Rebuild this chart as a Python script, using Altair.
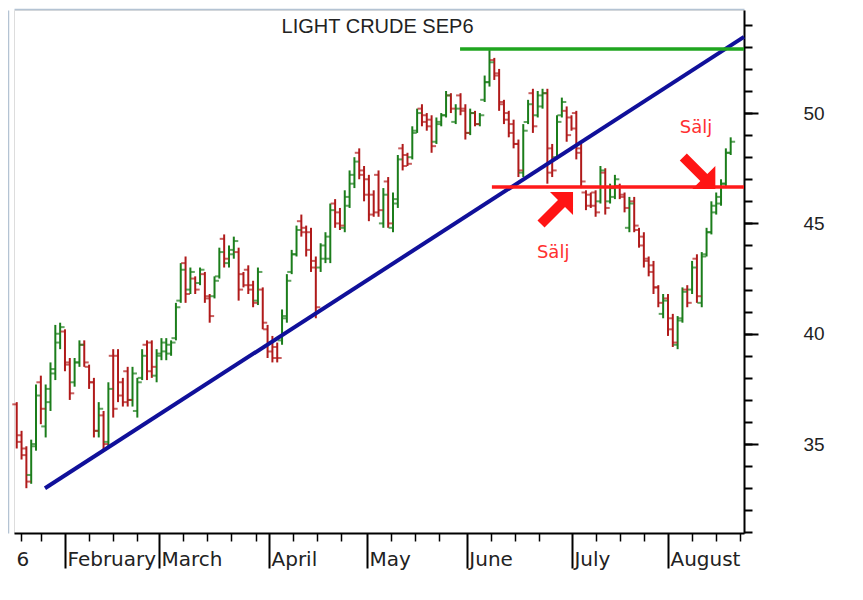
import altair as alt
import pandas as pd

# ---------------- data ----------------
# trading-day index of each bar (Jan 18 2006 = 1 ... Aug 18 2006 = 149)
day = list(range(1, 150))
open_p = [36.8, 35.4, 34.5, 33.6, 35.0, 37.8, 35.8, 36.9, 38.2, 39.6,
          40.1, 38.7, 37.8, 38.7, 39.5, 38.5, 37.8, 35.6, 36.3, 35.1,
          39.0, 39.0, 37.8, 38.3, 37.0, 36.5, 38.0, 39.5, 39.6, 38.1,
          39.0, 39.2, 39.1, 39.8, 41.5, 43.2, 42.0, 42.5, 42.3, 42.7,
          41.6, 41.7, 42.6, 44.3, 43.2, 43.6, 43.7, 42.7, 42.9, 42.2,
          41.5, 42.0, 40.2, 39.6, 39.4, 39.7, 40.7, 42.8, 43.6, 45.1,
          44.8, 44.6, 43.3, 43.0, 43.4, 43.4, 45.9, 45.5, 44.8, 45.8,
          46.8, 48.2, 47.4, 47.0, 46.3, 47.2, 45.0, 46.9, 44.8, 45.9,
          48.4, 48.1, 48.0, 49.2, 50.2, 49.9, 49.7, 48.7, 49.5, 49.9,
          50.8, 49.6, 50.8, 50.2, 49.1, 50.0, 49.5, 50.6, 51.4, 52.4,
          51.8, 50.5, 50.0, 49.5, 48.6, 47.3, 49.6, 50.9, 49.9, 50.3,
          50.9, 48.4, 48.0, 49.9, 50.1, 49.8, 50.0, 48.4, 46.4, 46.3,
          46.4, 46.0, 47.3, 46.0, 46.2, 46.7, 46.3, 44.8, 46.0, 44.7,
          44.4, 43.4, 43.1, 42.1, 40.9, 41.6, 40.7, 39.5, 40.7, 42.0,
          42.0, 43.4, 41.4, 43.6, 44.6, 45.5, 45.9, 46.8, 48.2]
high_p = [36.9, 35.6, 34.9, 35.2, 37.7, 38.1, 37.7, 38.7, 40.4, 40.5,
          40.2, 38.9, 38.9, 39.7, 39.7, 38.6, 38.0, 36.9, 36.5, 37.8,
          39.3, 39.3, 38.0, 38.5, 38.5, 38.0, 39.3, 39.7, 39.7, 39.3,
          39.8, 39.8, 39.7, 41.4, 43.2, 43.5, 43.0, 42.6, 43.0, 42.8,
          41.8, 42.6, 43.9, 44.5, 44.0, 44.4, 43.9, 42.8, 43.1, 42.4,
          43.0, 42.1, 40.4, 39.9, 39.6, 41.1, 42.7, 43.8, 44.9, 45.4,
          44.9, 44.8, 43.5, 44.1, 44.6, 45.9, 46.1, 45.7, 46.5, 47.4,
          48.0, 48.4, 47.6, 47.2, 46.5, 47.4, 46.6, 47.1, 46.4, 48.1,
          48.6, 48.2, 49.4, 50.2, 50.4, 50.0, 49.9, 49.8, 50.0, 51.0,
          50.9, 50.4, 50.9, 50.4, 50.2, 50.1, 50.0, 51.7, 52.85, 52.5,
          52.0, 50.6, 50.1, 49.7, 48.8, 49.5, 50.6, 51.1, 51.0, 51.1,
          51.1, 48.6, 49.9, 50.7, 50.3, 49.9, 50.1, 48.6, 46.5, 46.4,
          46.5, 47.6, 47.5, 46.8, 47.2, 46.8, 46.4, 46.2, 46.2, 44.8,
          44.6, 43.5, 43.3, 42.2, 41.8, 41.8, 40.9, 40.8, 42.1, 42.2,
          43.3, 43.6, 43.7, 44.8, 46.0, 46.4, 47.0, 48.4, 48.9]
low_p = [34.8, 34.3, 33.0, 33.2, 34.7, 35.9, 35.3, 36.5, 37.9, 39.3,
         38.3, 37.0, 37.6, 38.5, 38.5, 37.5, 35.3, 35.3, 34.7, 34.9,
         36.2, 36.9, 36.7, 36.7, 36.7, 36.2, 37.9, 37.9, 38.0, 37.8,
         38.8, 38.8, 39.0, 39.7, 41.4, 41.4, 41.8, 41.8, 42.2, 41.4,
         40.5, 41.6, 42.5, 43.0, 43.0, 43.4, 41.5, 42.1, 41.8, 41.2,
         41.3, 40.2, 38.9, 38.7, 38.7, 39.5, 40.5, 42.7, 43.5, 44.4,
         43.5, 42.8, 40.7, 42.8, 43.2, 43.2, 44.8, 44.7, 44.6, 45.7,
         46.6, 47.0, 46.0, 45.1, 45.3, 45.3, 44.8, 44.8, 44.6, 45.7,
         47.4, 47.6, 47.9, 49.1, 49.4, 49.2, 48.2, 48.6, 49.4, 49.8,
         50.0, 49.5, 49.9, 48.8, 49.0, 49.4, 49.4, 50.5, 51.2, 51.5,
         50.1, 49.5, 48.9, 48.4, 47.1, 47.1, 49.5, 49.1, 49.8, 50.2,
         46.8, 47.1, 47.9, 49.8, 48.7, 49.2, 47.9, 46.6, 45.6, 45.7,
         45.3, 45.9, 45.4, 45.9, 46.1, 46.1, 45.5, 44.6, 44.6, 43.9,
         43.0, 42.6, 41.8, 41.2, 40.7, 39.9, 39.4, 39.3, 40.5, 41.2,
         41.8, 41.4, 41.2, 43.5, 44.5, 45.4, 45.8, 46.6, 48.1]
close_p = [35.1, 34.8, 33.3, 34.9, 37.2, 36.6, 37.5, 38.4, 40.0, 40.3,
           38.6, 37.3, 38.7, 39.5, 38.7, 37.8, 35.6, 36.6, 35.0, 37.5,
           36.6, 37.2, 36.9, 37.0, 38.2, 37.8, 39.0, 38.3, 38.5, 39.1,
           39.6, 39.5, 39.6, 41.2, 42.9, 41.8, 42.8, 42.0, 42.9, 41.7,
           40.8, 42.4, 43.7, 43.4, 43.8, 44.2, 42.0, 42.2, 42.0, 41.4,
           42.8, 40.5, 39.2, 38.9, 38.9, 40.8, 42.4, 43.6, 44.7, 44.6,
           43.8, 43.0, 41.2, 44.0, 44.4, 45.6, 45.0, 44.9, 46.2, 47.2,
           47.8, 47.2, 46.3, 45.4, 45.5, 45.6, 46.3, 45.0, 46.1, 47.9,
           47.6, 47.7, 49.1, 50.0, 49.6, 49.4, 48.5, 49.6, 49.9, 50.8,
           50.2, 50.2, 50.1, 49.1, 50.0, 49.5, 49.9, 51.4, 52.3, 51.7,
           50.4, 49.7, 49.1, 48.6, 47.4, 49.2, 50.4, 49.4, 50.8, 50.9,
           47.3, 47.4, 49.6, 50.5, 49.0, 49.3, 48.2, 46.9, 45.8, 45.8,
           45.5, 47.4, 45.7, 46.6, 47.0, 46.2, 45.7, 45.9, 44.9, 44.0,
           43.3, 42.8, 42.1, 41.4, 41.5, 40.2, 39.6, 40.6, 41.9, 41.4,
           43.0, 41.7, 43.5, 44.6, 45.8, 46.2, 46.8, 48.2, 48.7]

# axis ticks
month_pos = [0.435, 11.0, 30.5, 53.3, 73.6, 94.3, 116.1, 136.0]
month_lbl = ["6", "February", "March", "April", "May", "June", "July", "August"]
week_pos = [1.9, 6.0, 16.0, 21.0, 26.0, 35.5, 40.5, 45.5, 50.5, 58.3, 63.3,
            68.3, 78.6, 83.6, 88.6, 99.3, 104.3, 109.3, 121.1, 126.1, 131.1,
            141.0, 146.0, 151.0]
y_major = [35, 40, 45, 50]
y_minor = list(range(31, 55))

# drawn lines
trend_day = [6.86, 151.76]
trend_val = [33.0, 53.45]
resist_day = [92.9, 151.76]
resist_val = [52.9, 52.9]
support_day = [99.5, 151.76]
support_val = [46.65, 46.65]

# arrows and labels
arrow_day = [113.0, 142.5]
arrow_val = [45.7, 47.28]
arrow_angle = [45, 135]
label_day = [112.2, 141.8]
label_val = [43.66, 49.32]
label_txt = ["Sälj", "Sälj"]

# title placed inside the plot area
title_day = [75.8]
title_val = [53.9]
title_txt = ["LIGHT CRUDE SEP6"]

# ---------------- chart ----------------
GREEN = "#1b7d1b"
RED = "#b01a1a"
FRAME = "#b4c3d3"

bars = pd.DataFrame(dict(day=day, open=open_p, high=high_p, low=low_p, close=close_p))
trend = pd.DataFrame(dict(day=trend_day, val=trend_val))
resist = pd.DataFrame(dict(day=resist_day, val=resist_val))
support = pd.DataFrame(dict(day=support_day, val=support_val))
arrows = pd.DataFrame(dict(day=arrow_day, val=arrow_val, angle=arrow_angle))
labels = pd.DataFrame(dict(day=label_day, val=label_val, txt=label_txt))
titles = pd.DataFrame(dict(day=title_day, val=title_val, txt=title_txt))

xs = alt.Scale(domain=[0.435, 151.76], nice=False, zero=False)
ys = alt.Scale(domain=[30.97, 54.67], nice=False, zero=False)

label_expr = " : ".join(f"datum.value == {p} ? '{l}'" for p, l in zip(month_pos, month_lbl)) + " : ''"

x_major = alt.Axis(orient="bottom", values=month_pos, labelExpr=label_expr, title=None,
                   grid=False, tickSize=35, tickWidth=2, tickColor="black",
                   tickOpacity={"condition": {"test": "datum.value < 1", "value": 0}, "value": 1},
                   domainColor="black", domainWidth=2,
                   labelAlign="left", labelBaseline="top", labelPadding=-19, labelOffset=2,
                   labelFont="DejaVu Sans", labelFontSize=20, labelColor="#222",
                   labelFlush=False, labelOverlap=False)
x_minor = alt.Axis(orient="bottom", values=week_pos, title=None, grid=False, labels=False,
                   domain=False, tickSize=8, tickWidth=1.5, tickColor="black")
x_frame = alt.Axis(orient="top", offset=1, title=None, grid=False, labels=False,
                   ticks=False, domainColor=FRAME, domainWidth=1.5)

y_major_ax = alt.Axis(orient="right", values=y_major, title=None, grid=False,
                      tickSize=14, tickWidth=2, tickColor="black",
                      domainColor="black", domainWidth=2,
                      labelPadding=45, labelFont="Liberation Sans", labelFontSize=19,
                      labelColor="#222", labelAlign="left")
y_minor_ax = alt.Axis(orient="right", values=y_minor, title=None, grid=False, labels=False,
                      domain=False, tickSize=8, tickWidth=2, tickColor="black")
y_frame = alt.Axis(orient="left", offset=6, title=None, grid=False, labels=False,
                   ticks=False, domainColor=FRAME, domainWidth=1.5)

color = alt.condition("datum.close >= datum.open", alt.value(GREEN), alt.value(RED))

hl = alt.Chart(bars).mark_rule(strokeWidth=2).encode(
    x=alt.X("day:Q", scale=xs, axis=x_major),
    y=alt.Y("low:Q", scale=ys, axis=y_major_ax),
    y2="high:Q",
    color=color,
)
op = alt.Chart(bars).mark_tick(orient="horizontal", size=4.5, thickness=2, xOffset=-2.2).encode(
    x=alt.X("day:Q", scale=xs, axis=x_minor),
    y=alt.Y("open:Q", scale=ys, axis=y_minor_ax),
    color=color,
)
cl = alt.Chart(bars).mark_tick(orient="horizontal", size=4.5, thickness=2, xOffset=2.2).encode(
    x=alt.X("day:Q", scale=xs, axis=x_frame),
    y=alt.Y("close:Q", scale=ys, axis=y_frame),
    color=color,
)


def line(df, col, w):
    return alt.Chart(df).mark_line(color=col, strokeWidth=w).encode(
        x=alt.X("day:Q", scale=xs, axis=None),
        y=alt.Y("val:Q", scale=ys, axis=None),
    )


trend_l = line(trend, "#10109a", 4)
resist_l = line(resist, "#1fa51f", 3.5)
support_l = line(support, "#ff1a1a", 3.5)

ARROW = "M0,-1 L0.72,-0.28 L0.22,-0.28 L0.22,1 L-0.22,1 L-0.22,-0.28 L-0.72,-0.28 Z"
arr = alt.Chart(arrows).mark_point(shape=ARROW, filled=True, size=2050, color="#ff1414",
                                   opacity=1, strokeWidth=0).encode(
    x=alt.X("day:Q", scale=xs, axis=None),
    y=alt.Y("val:Q", scale=ys, axis=None),
    angle=alt.Angle("angle:Q", scale=None),
)
txt = alt.Chart(labels).mark_text(font="DejaVu Sans", fontSize=18, color="#ff3030").encode(
    x=alt.X("day:Q", scale=xs, axis=None),
    y=alt.Y("val:Q", scale=ys, axis=None),
    text="txt:N",
)
ttl = alt.Chart(titles).mark_text(font="Liberation Sans", fontSize=20, color="#222",
                                  baseline="middle", align="center").encode(
    x=alt.X("day:Q", scale=xs, axis=None),
    y=alt.Y("val:Q", scale=ys, axis=None),
    text="txt:N",
)

chart = alt.layer(hl, op, cl, trend_l, resist_l, support_l, arr, txt, ttl).resolve_axis(
    x="independent", y="independent"
).properties(
    width=730, height=523,
    autosize=alt.AutoSizeParams(type="none"),
    padding={"left": 6, "top": 2, "right": 110, "bottom": 62},
).configure_view(stroke=None).configure(background="white")

chart.save("out.html", embed_options={"renderer": "svg", "actions": False})
